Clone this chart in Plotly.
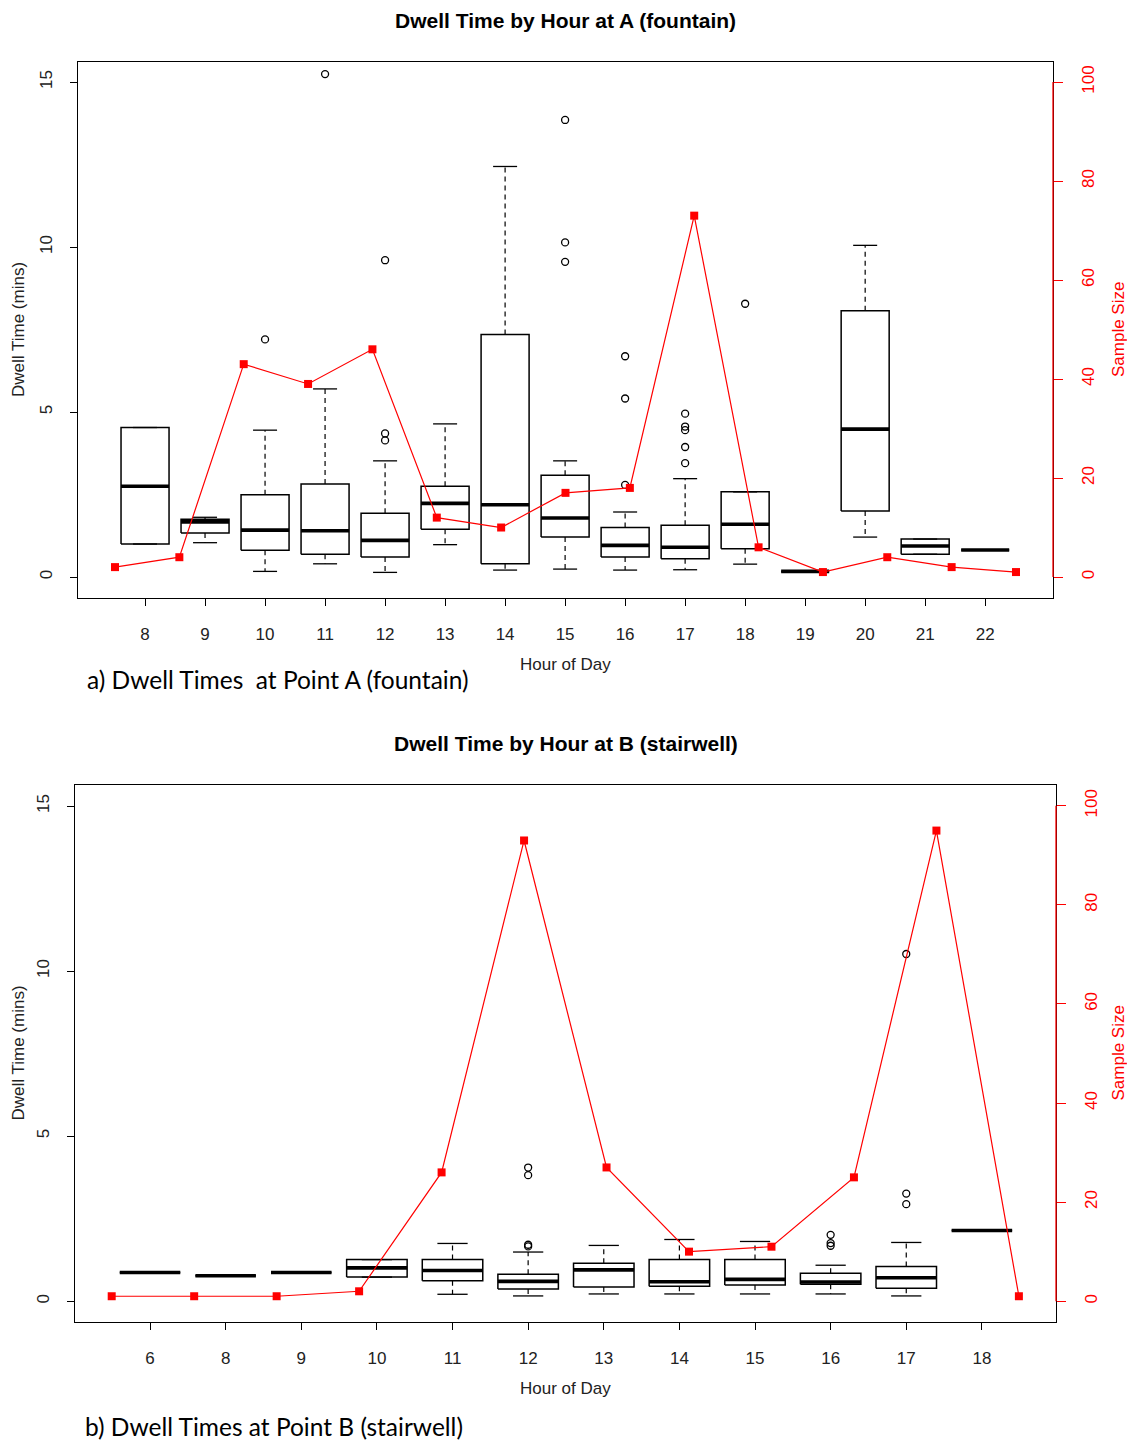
import plotly.graph_objects as go

# ---------------- data: A (fountain) ----------------
hours_a = ["8", "9", "10", "11", "12", "13", "14", "15", "16", "17", "18", "19", "20", "21", "22"]
a_low  = [1.00, 1.04, 0.17, 0.40, 0.14, 0.98, 0.21, 0.24, 0.21, 0.22, 0.39, 0.17, 1.21, 0.69, 0.82]
a_q1   = [1.00, 1.33, 0.81, 0.69, 0.61, 1.45, 0.40, 1.21, 0.61, 0.55, 0.86, 0.17, 2.00, 0.69, 0.82]
a_med  = [2.75, 1.67, 1.42, 1.40, 1.11, 2.23, 2.19, 1.79, 0.96, 0.90, 1.60, 0.17, 4.48, 0.94, 0.82]
a_q3   = [4.53, 1.75, 2.49, 2.82, 1.93, 2.75, 7.35, 3.08, 1.50, 1.57, 2.58, 0.17, 8.07, 1.15, 0.82]
a_high = [4.53, 1.81, 4.45, 5.70, 3.52, 4.64, 12.44, 3.52, 1.97, 2.98, 2.58, 0.17, 10.05, 1.15, 0.82]
a_out_hour  = ["10", "11", "12", "12", "12", "15", "15", "15", "16", "16", "16",
               "17", "17", "17", "17", "17", "18"]
a_out_value = [7.20, 15.24, 9.60, 4.35, 4.14, 13.85, 10.14, 9.55, 6.69, 5.41, 2.79,
               4.95, 4.56, 4.45, 3.94, 3.45, 8.28]
a_n = [2, 4, 43, 39, 46, 12, 10, 17, 18, 73, 6, 1, 4, 2, 1]

# ---------------- data: B (stairwell) ----------------
hours_b = ["6", "8", "9", "10", "11", "12", "13", "14", "15", "16", "17", "18"]
b_low  = [0.87, 0.77, 0.87, 0.73, 0.21, 0.16, 0.22, 0.22, 0.22, 0.22, 0.16, 2.14]
b_q1   = [0.87, 0.77, 0.87, 0.73, 0.62, 0.37, 0.43, 0.45, 0.49, 0.51, 0.39, 2.14]
b_med  = [0.87, 0.77, 0.87, 1.01, 0.93, 0.60, 0.95, 0.59, 0.66, 0.58, 0.71, 2.14]
b_q3   = [0.87, 0.77, 0.87, 1.26, 1.26, 0.82, 1.15, 1.26, 1.26, 0.85, 1.05, 2.14]
b_high = [0.87, 0.77, 0.87, 1.26, 1.75, 1.49, 1.69, 1.87, 1.81, 1.09, 1.78, 2.14]
b_out_hour  = ["12", "12", "12", "12", "16", "16", "16", "17", "17", "17"]
b_out_value = [4.05, 3.82, 1.71, 1.66, 2.01, 1.76, 1.68, 10.52, 3.26, 2.94]
b_n = [1, 1, 1, 2, 26, 93, 27, 10, 11, 25, 95, 1]

title_a = "Dwell Time by Hour at A (fountain)"
title_b = "Dwell Time by Hour at B (stairwell)"
caption_a = "a) Dwell Times\u00a0 at Point A (fountain)"
caption_b = "b) Dwell Times at Point B (stairwell)"

W, H = 1127, 1443
FONT = "Liberation Sans, Arial, sans-serif"
RED = "#ff0000"

fig = go.Figure()


def add_boxes(hours, low, q1, med, q3, high, out_hour, out_val, xa, ya):
    pos = list(range(1, len(hours) + 1))
    hw, cw = 0.4, 0.2
    rx, ry, mx, my, wx, wy, cx, cy = [], [], [], [], [], [], [], []
    for p, lo, a, m, b, hi in zip(pos, low, q1, med, q3, high):
        rx += [p - hw, p + hw, p + hw, p - hw, p - hw, None]
        ry += [a, a, b, b, a, None]
        mx += [p - hw, p + hw, None]
        my += [m, m, None]
        wx += [p, p, None, p, p, None]
        wy += [b, hi, None, a, lo, None]
        cx += [p - cw, p + cw, None, p - cw, p + cw, None]
        cy += [hi, hi, None, lo, lo, None]
    common = dict(xaxis=xa, yaxis=ya, mode="lines", showlegend=False, hoverinfo="skip")
    fig.add_trace(go.Scatter(x=wx, y=wy, line=dict(color="black", width=1.2, dash="5px,4px"), **common))
    fig.add_trace(go.Scatter(x=cx, y=cy, line=dict(color="black", width=1.3), **common))
    fig.add_trace(go.Scatter(x=rx, y=ry, line=dict(color="black", width=1.5), **common))
    fig.add_trace(go.Scatter(x=mx, y=my, line=dict(color="black", width=3.6), **common))
    ox = [hours.index(h) + 1 for h in out_hour]
    fig.add_trace(go.Scatter(x=ox, y=out_val, xaxis=xa, yaxis=ya, mode="markers",
                             marker=dict(symbol="circle-open", size=7, color="black",
                                         line=dict(width=1.3)),
                             showlegend=False))


def add_counts(n, xa, ya):
    fig.add_trace(go.Scatter(x=list(range(1, len(n) + 1)), y=n, xaxis=xa, yaxis=ya,
                             mode="lines+markers",
                             line=dict(color=RED, width=1.2),
                             marker=dict(symbol="square", size=8, color=RED),
                             showlegend=False))


add_boxes(hours_a, a_low, a_q1, a_med, a_q3, a_high, a_out_hour, a_out_value, "x", "y")
add_counts(a_n, "x2", "y2")
add_boxes(hours_b, b_low, b_q1, b_med, b_q3, b_high, b_out_hour, b_out_value, "x3", "y3")
add_counts(b_n, "x4", "y4")

# pixel geometry of the two panels
A = dict(l=78, r=1053, t=62, b=598)
B = dict(l=75, r=1056, t=785, b=1322)


def dom_x(p):
    return [p["l"] / W, p["r"] / W]


def dom_y(p):
    return [1 - p["b"] / H, 1 - p["t"] / H]


tickfont = dict(family=FONT, size=17, color="#222222")
redfont = dict(family=FONT, size=17, color=RED)

box_x = dict(showline=True, linecolor="black", linewidth=1.3, mirror=True,
             ticks="outside", ticklen=7, tickcolor="black", tickwidth=1.2,
             showgrid=False, zeroline=False, tickfont=tickfont, ticklabelstandoff=13)
left_y = dict(showline=True, linecolor="black", linewidth=1.3, mirror=True,
              ticks="outside", ticklen=7, tickcolor="black", tickwidth=1.2,
              showgrid=False, zeroline=False, tickfont=tickfont, tickangle=-90,
              tickvals=[0, 5, 10, 15], ticklabelstandoff=11)
right_y = dict(showline=False, ticks="outside", ticklen=9, tickcolor=RED, tickwidth=1.2,
               showgrid=False, zeroline=False, tickfont=redfont, tickangle=-90,
               tickvals=[0, 20, 40, 60, 80, 100], side="right", ticklabelstandoff=11)

fig.update_layout(
    width=W, height=H, margin=dict(l=0, r=0, t=0, b=0),
    paper_bgcolor="white", plot_bgcolor="white",
    xaxis=dict(domain=dom_x(A), anchor="y", range=[-0.117, 16.13],
               tickvals=list(range(1, len(hours_a) + 1)), ticktext=hours_a, **box_x),
    xaxis2=dict(domain=dom_x(A), anchor="y", overlaying="x", range=[0.425, 15.575], visible=False),
    yaxis=dict(domain=dom_y(A), anchor="x", range=[-0.636, 15.606], **left_y),
    yaxis2=dict(domain=dom_y(A), anchor="x", overlaying="y", range=[-4.24, 104.04], **right_y),
    xaxis3=dict(domain=dom_x(B), anchor="y3", range=[0.008, 12.98],
                tickvals=list(range(1, len(hours_b) + 1)), ticktext=hours_b, **box_x),
    xaxis4=dict(domain=dom_x(B), anchor="y3", overlaying="x3", range=[0.555, 12.45], visible=False),
    yaxis3=dict(domain=dom_y(B), anchor="x3", range=[-0.63, 15.64], **left_y),
    yaxis4=dict(domain=dom_y(B), anchor="x3", overlaying="y3", range=[-4.2, 104.2], **right_y),
)

# red axis line segments (0..100) on the right side
for ya, p in (("y2", A), ("y4", B)):
    fig.add_shape(type="line", xref="paper", yref=ya, x0=p["r"] / W, x1=p["r"] / W,
                  y0=0, y1=100, line=dict(color=RED, width=1.3))


def ann(text, x, y, size, color="black", bold=False, angle=0, xanchor="center", family=FONT):
    fig.add_annotation(text=("<b>%s</b>" % text) if bold else text,
                       x=x / W, y=1 - y / H, xref="paper", yref="paper",
                       showarrow=False, textangle=angle, xanchor=xanchor, yanchor="middle",
                       borderpad=0,
                       font=dict(family=family, size=size, color=color))


for p, title, cap, cap_x, cap_y in ((A, title_a, caption_a, 86, 680), (B, title_b, caption_b, 84, 1426)):
    cx = (p["l"] + p["r"]) / 2
    cy = (p["t"] + p["b"]) / 2
    ann(title, cx, p["t"] - 42, 21, bold=True)
    ann("Hour of Day", cx, p["b"] + 66, 17, color="#222222")
    ann("Dwell Time (mins)", 18, cy, 17, color="#222222", angle=-90)
    ann("Sample Size", 1118, cy, 17, color=RED, angle=-90)
    ann(cap, cap_x, cap_y, 24.5, xanchor="left", family="Lato, Carlito, Liberation Sans, sans-serif")

fig.write_html("out.html")
